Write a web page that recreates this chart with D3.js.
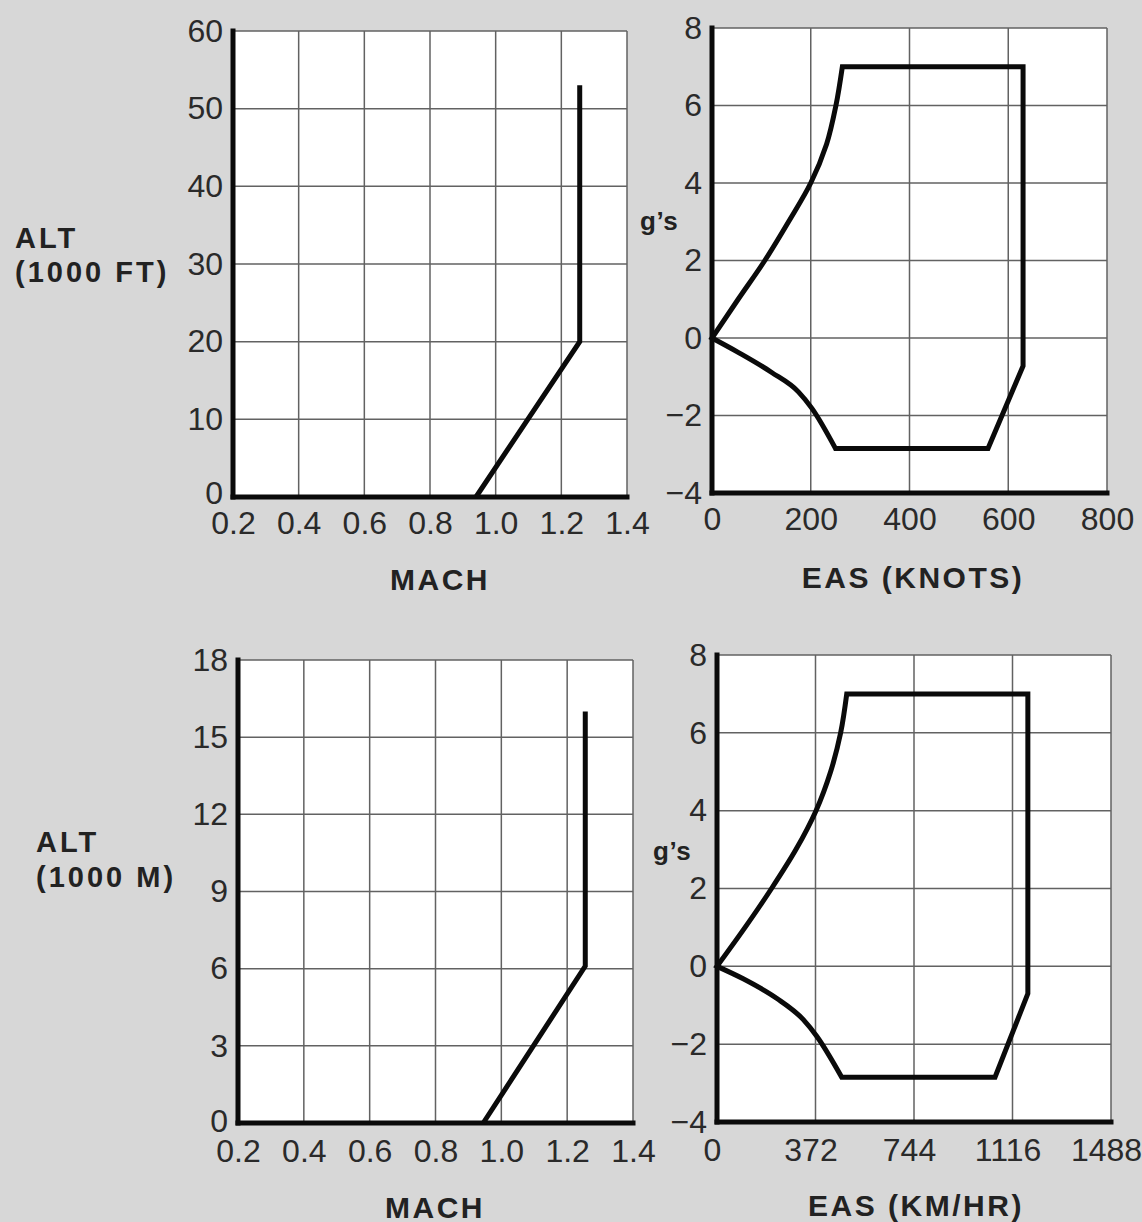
<!DOCTYPE html>
<html>
<head>
<meta charset="utf-8">
<script src="https://cdn.jsdelivr.net/npm/d3@7"></script>
<style>
  html, body { margin: 0; padding: 0; background: #d7d7d7; }
  svg { display: block; }
</style>
</head>
<body>
<svg id="chart" width="1142" height="1222"></svg>
<script>
// tick labels
const machTicks = [0.2, 0.4, 0.6, 0.8, 1.0, 1.2, 1.4];
const altFtTicks = [0, 10, 20, 30, 40, 50, 60];
const altMTicks = [0, 3, 6, 9, 12, 15, 18];
const gTicks = [-4, -2, 0, 2, 4, 6, 8];
const knotTicks = [0, 200, 400, 600, 800];
const kmhTicks = [0, 372, 744, 1116, 1488];

// Mach limit line (feet / metres)
const limFtMach = [0.94, 1.256, 1.256];
const limFtAlt = [0, 20, 53];
const limMMach = [0.945, 1.255, 1.255];
const limMAlt = [0, 6.1, 16];

// V-n envelope, knots
const ktUpperEas = [0, 53, 107, 155, 200, 232, 251, 264];
const ktUpperG = [0, 1, 2, 3, 4, 5, 6, 7];
const ktOuterEas = [264, 630, 630, 559, 250];
const ktOuterG = [7, 7, -0.72, -2.85, -2.85];
const ktLowerEas = [0, 53, 121, 175, 202, 250];
const ktLowerG = [0, -0.37, -0.89, -1.39, -1.81, -2.85];

// V-n envelope, km/hr
const kmUpperEas = [0, 106, 206, 298, 374, 429, 467, 490];
const kmUpperG = [0, 1, 2, 3, 4, 5, 6, 7];
const kmOuterEas = [490, 1174, 1174, 1050, 471];
const kmOuterG = [7, 7, -0.7, -2.85, -2.85];
const kmLowerEas = [0, 99, 225, 326, 376, 471];
const kmLowerG = [0, -0.32, -0.82, -1.37, -1.79, -2.85];

const FONT = '"Liberation Sans", Arial, Helvetica, sans-serif';
const svg = d3.select('#chart');

function drawPanel(cfg) {
  const x = d3.scaleLinear().domain(cfg.xDomain).range([cfg.left, cfg.right]);
  const y = d3.scaleLinear().domain(cfg.yDomain).range([cfg.bottom, cfg.top]);
  const g = svg.append('g');

  g.append('rect')
    .attr('x', cfg.left).attr('y', cfg.top)
    .attr('width', cfg.right - cfg.left).attr('height', cfg.bottom - cfg.top)
    .attr('fill', '#ffffff');

  // grid, including top and right border
  g.append('g').selectAll('line').data(cfg.xTicks.slice(1)).join('line')
    .attr('x1', d => x(d)).attr('x2', d => x(d))
    .attr('y1', cfg.top).attr('y2', cfg.bottom)
    .attr('stroke', '#626262').attr('stroke-width', 1.5);
  g.append('g').selectAll('line').data(cfg.yTicks.slice(1)).join('line')
    .attr('x1', cfg.left).attr('x2', cfg.right)
    .attr('y1', d => y(d)).attr('y2', d => y(d))
    .attr('stroke', '#626262').attr('stroke-width', 1.5);

  // tick labels
  const bx = g.append('g')
    .attr('transform', `translate(0,${cfg.bottom})`)
    .call(d3.axisBottom(x).tickValues(cfg.xTicks).tickFormat(cfg.xFormat).tickSize(0).tickPadding(cfg.xPad));
  bx.selectAll('text').attr('dx', cfg.xShift || 0);
  const ly = g.append('g')
    .attr('transform', `translate(${cfg.left},0)`)
    .call(d3.axisLeft(y).tickValues(cfg.yTicks).tickFormat(cfg.yFormat).tickSize(0).tickPadding(10));
  ly.selectAll('text').filter(d => d === cfg.yDomain[0]).attr('dy', cfg.zeroDy);
  [bx, ly].forEach(a => {
    a.select('.domain').remove();
    a.attr('font-family', FONT).attr('font-size', 32);
    a.selectAll('text').attr('fill', '#2a2a2a');
  });

  // thick axes
  g.append('line')
    .attr('x1', cfg.left).attr('x2', cfg.left)
    .attr('y1', cfg.top).attr('y2', cfg.bottom)
    .attr('stroke', '#0a0a0a').attr('stroke-width', 5).attr('stroke-linecap', 'square');
  g.append('line')
    .attr('x1', cfg.left).attr('x2', cfg.right)
    .attr('y1', cfg.bottom).attr('y2', cfg.bottom)
    .attr('stroke', '#0a0a0a').attr('stroke-width', 5).attr('stroke-linecap', 'square');

  // data
  g.append('path')
    .attr('d', cfg.pathFn(x, y))
    .attr('fill', 'none').attr('stroke', '#0a0a0a').attr('stroke-width', 5)
    .attr('stroke-linejoin', 'miter');

  // titles
  g.append('text')
    .attr('x', cfg.title.x).attr('y', cfg.title.y)
    .attr('text-anchor', 'middle')
    .attr('font-family', FONT).attr('font-size', 30).attr('font-weight', 'bold')
    .attr('letter-spacing', 2.5).attr('fill', '#222')
    .text(cfg.title.text);

  const yl = g.append('text')
    .attr('font-family', FONT).attr('font-size', cfg.yLabel.size).attr('font-weight', 'bold')
    .attr('letter-spacing', cfg.yLabel.spacing).attr('fill', '#222');
  cfg.yLabel.lines.forEach((t, i) => {
    yl.append('tspan').attr('x', cfg.yLabel.x).attr('y', cfg.yLabel.ys[i]).text(t);
  });
}

function machPath(machs, alts) {
  return (x, y) => d3.line().x(d => x(d[0])).y(d => y(d[1]))(d3.zip(machs, alts));
}

function envelopePath(upE, upG, outE, outG, loE, loG) {
  return (x, y) => {
    const lin = d3.line().x(d => x(d[0])).y(d => y(d[1]));
    // upper boundary: EAS is a smooth function of g; lower: g is a smooth function of EAS
    const up = d3.line().curve(d3.curveMonotoneY).x(d => x(d[0])).y(d => y(d[1]));
    const lo = d3.line().curve(d3.curveMonotoneX).x(d => x(d[0])).y(d => y(d[1]));
    const strip = s => s.replace(/^M[^A-Za-z]*/, '');
    return up(d3.zip(upE, upG)) +
      strip(lin(d3.zip(outE, outG))) +
      strip(lo(d3.zip(loE, loG).reverse())) + 'Z';
  };
}

const machFmt = d3.format('.1f');
const intFmt = d3.format('d');

drawPanel({
  left: 233, right: 627, top: 31, bottom: 497,
  xDomain: [0.2, 1.4], yDomain: [0, 60],
  xTicks: machTicks, yTicks: altFtTicks, xFormat: machFmt, yFormat: intFmt, xPad: 14, zeroDy: '0.2em',
  pathFn: machPath(limFtMach, limFtAlt),
  title: { text: 'MACH', x: 440, y: 590 },
  yLabel: { lines: ['ALT', '(1000 FT)'], x: 15, ys: [248, 282], size: 29, spacing: 3 }
});

drawPanel({
  left: 712, right: 1107, top: 28, bottom: 493,
  xDomain: [0, 800], yDomain: [-4, 8],
  xTicks: knotTicks, yTicks: gTicks, xFormat: intFmt, yFormat: intFmt, xPad: 14, zeroDy: '0.32em',
  pathFn: envelopePath(ktUpperEas, ktUpperG, ktOuterEas, ktOuterG, ktLowerEas, ktLowerG),
  title: { text: 'EAS (KNOTS)', x: 913, y: 588 },
  yLabel: { lines: ['g\u2019s'], x: 640, ys: [230], size: 26, spacing: 0.5 }
});

drawPanel({
  left: 238, right: 633, top: 660, bottom: 1123,
  xDomain: [0.2, 1.4], yDomain: [0, 18],
  xTicks: machTicks, yTicks: altMTicks, xFormat: machFmt, yFormat: intFmt, xPad: 16, zeroDy: '0.25em',
  pathFn: machPath(limMMach, limMAlt),
  title: { text: 'MACH', x: 435, y: 1218 },
  yLabel: { lines: ['ALT', '(1000 M)'], x: 36, ys: [852, 887], size: 29, spacing: 3 }
});

drawPanel({
  left: 717, right: 1111, top: 655, bottom: 1122,
  xDomain: [0, 1488], yDomain: [-4, 8],
  xTicks: kmhTicks, yTicks: gTicks, xFormat: intFmt, yFormat: intFmt, xPad: 16, zeroDy: '0.32em', xShift: -5,
  pathFn: envelopePath(kmUpperEas, kmUpperG, kmOuterEas, kmOuterG, kmLowerEas, kmLowerG),
  title: { text: 'EAS (KM/HR)', x: 916, y: 1216 },
  yLabel: { lines: ['g\u2019s'], x: 653, ys: [860], size: 26, spacing: 0.5 }
});
</script>
</body>
</html>
